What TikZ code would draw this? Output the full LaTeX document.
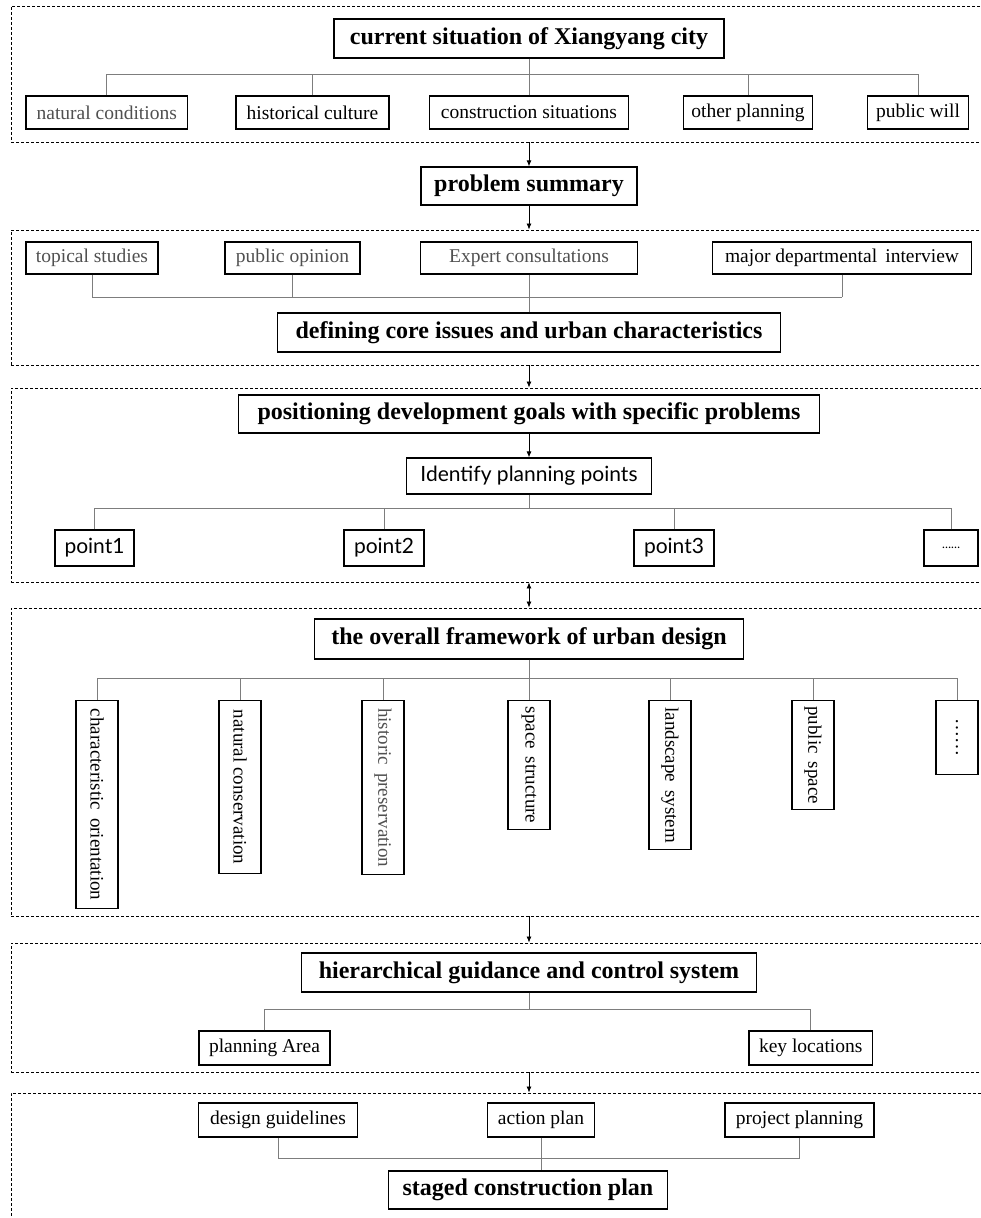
\documentclass[tikz,border=0pt]{standalone}
\usepackage{fontspec}
\setmainfont{Liberation Serif}
\newfontfamily\pointfont{Lato}
\usetikzlibrary{arrows.meta}

\definecolor{treegray}{RGB}{125,125,125}
\definecolor{textgray}{RGB}{80,80,80}

\begin{document}
\begin{tikzpicture}[x=1pt, y=-1pt,
    frame/.style={draw, dash pattern=on 3pt off 2pt, line width=0.9pt, inner sep=0pt},
    head/.style={draw, line width=1.3pt, inner sep=0pt, minimum height=39, font=\bfseries\fontsize{24}{28}\selectfont},
    item/.style={draw, line width=1.2pt, inner sep=0pt, minimum height=33, font=\fontsize{19.5}{23}\selectfont},
    pnt/.style={draw, line width=1.2pt, inner sep=0pt, minimum height=36, font=\pointfont\fontsize{21}{25}\selectfont},
    vert/.style={draw, line width=1.2pt, rotate=-90, anchor=west, inner sep=0pt, minimum height=42, font=\fontsize{19}{22}\selectfont},
    tree/.style={draw=treegray, line width=0.9pt},
    flow/.style={line width=0.8pt, -{Latex[length=6pt,width=5pt]}}]
    \useasboundingbox (0,0) rectangle (981,1218);

    % dashed frames
    \node[frame, minimum width=979, minimum height=136] (f1) at (500.5,74) {};
    \node[frame, minimum width=979, minimum height=135] (f2) at (500.5,297.5) {};
    \node[frame, minimum width=979, minimum height=194] (f3) at (500.5,485) {};
    \node[frame, minimum width=979, minimum height=308] (f4) at (500.5,762) {};
    \node[frame, minimum width=979, minimum height=129] (f5) at (500.5,1007.5) {};
    \node[frame, minimum width=979, minimum height=147] (f6) at (500.5,1166.5) {};

    % current situation
    \node[head, minimum width=390] (cur) at (529,38.5) {current situation of Xiangyang city};
    \node[item, minimum width=161.5, text=textgray] (nat) at (106.75,112.5) {natural conditions};
    \node[item, minimum width=153] (his) at (312.5,112.5) {historical culture};
    \node[item, minimum width=198.5] (con) at (529,112.5) {construction situations};
    \node[item, minimum width=128.5] (oth) at (748,112.5) {other planning};
    \node[item, minimum width=101.5] (pub) at (918,112.5) {public will};
    \coordinate (bus1) at (0,74);
    \draw[tree] (cur.south) -- (cur.south |- bus1);
    \draw[tree] (nat.north |- bus1) -- (pub.north |- bus1);
    \foreach \n in {nat,his,con,oth,pub}
        \draw[tree] (\n.north) -- (\n.north |- bus1);

    \node[head, minimum width=216, minimum height=38] (sum) at (529,186) {problem summary};
    \draw[flow] (sum.north |- f1.south) -- (sum.north);
    \draw[flow] (sum.south) -- (sum.south |- f2.north);

    % core issues
    \node[item, minimum width=132, minimum height=32, text=textgray] (top) at (92,258) {topical studies};
    \node[item, minimum width=135, minimum height=32, text=textgray] (opi) at (292.5,258) {public opinion};
    \node[item, minimum width=217.5, minimum height=32, text=textgray] (exp) at (529,258) {Expert consultations};
    \node[item, minimum width=259.5, minimum height=32] (maj) at (842,258) {major departmental\, interview};
    \node[head, minimum width=503] (core) at (529,332.5) {defining core issues and urban characteristics};
    \coordinate (bus2) at (0,297);
    \draw[tree] (top.south |- bus2) -- (maj.south |- bus2);
    \foreach \n in {top,opi,exp,maj}
        \draw[tree] (\n.south) -- (\n.south |- bus2);
    \draw[tree] (core.north) -- (core.north |- bus2);
    \draw[flow] (core.south |- f2.south) -- (core.south |- f3.north);

    % goals and points
    \node[head, minimum width=581.5, minimum height=38] (pos) at (529,414) {positioning development goals with specific problems};
    \node[pnt, minimum width=245] (ide) at (529,476) {Identify planning points};
    \draw[flow] (pos.south) -- (ide.north);
    \node[pnt, minimum width=79] (p1) at (94.5,548) {point1};
    \node[pnt, minimum width=80] (p2) at (384,548) {point2};
    \node[pnt, minimum width=80] (p3) at (674,548) {point3};
    \node[pnt, minimum width=54, font=\pointfont\fontsize{12}{14}\selectfont] (p4) at (951,548) {……};
    \coordinate (bus3) at (0,508);
    \draw[tree] (ide.south) -- (ide.south |- bus3);
    \draw[tree] (p1.north |- bus3) -- (p4.north |- bus3);
    \foreach \n in {p1,p2,p3,p4}
        \draw[tree] (\n.north) -- (\n.north |- bus3);
    \draw[flow, {Latex[length=6pt,width=5pt]}-{Latex[length=6pt,width=5pt]}] (ide.south |- f3.south) -- (ide.south |- f4.north);

    % overall framework
    \node[head, minimum width=428.5, minimum height=40] (fw) at (529,639) {the overall framework of urban design};
    \node[vert, minimum width=208] (v1) at (97,700) {characteristic\, orientation};
    \node[vert, minimum width=173] (v2) at (240,700) {natural conservation};
    \node[vert, minimum width=174, text=textgray] (v3) at (383,700) {historic\, preservation};
    \node[vert, minimum width=129] (v4) at (529,700) {space\, structure};
    \node[vert, minimum width=149] (v5) at (670,700) {landscape\, system};
    \node[vert, minimum width=109] (v6) at (813,700) {public\, space};
    \node[vert, minimum width=74] (v7) at (957,700) {……};
    \coordinate (bus4) at (0,678);
    \draw[tree] (fw.south) -- (fw.south |- bus4);
    \draw[tree] (v1.west |- bus4) -- (v7.west |- bus4);
    \foreach \n in {v1,v2,v3,v4,v5,v6,v7}
        \draw[tree] (\n.west) -- (\n.west |- bus4);
    \draw[flow] (fw.south |- f4.south) -- (fw.south |- f5.north);

    % guidance and control
    \node[head, minimum width=455] (hie) at (529,972.5) {hierarchical guidance and control system};
    \node[item, minimum width=131, minimum height=34] (are) at (264.5,1048) {planning Area};
    \node[item, minimum width=123.5, minimum height=34] (key) at (810.75,1048) {key locations};
    \coordinate (bus5) at (0,1009);
    \draw[tree] (hie.south) -- (hie.south |- bus5);
    \draw[tree] (are.north |- bus5) -- (key.north |- bus5);
    \foreach \n in {are,key}
        \draw[tree] (\n.north) -- (\n.north |- bus5);
    \draw[flow] (hie.south |- f5.south) -- (hie.south |- f6.north);

    % staged construction
    \node[item, minimum width=158.5, minimum height=34] (gui) at (278,1120) {design guidelines};
    \node[item, minimum width=106.5, minimum height=34] (act) at (541,1120) {action plan};
    \node[item, minimum width=149, minimum height=34] (pro) at (799.5,1120) {project planning};
    \node[head, minimum width=278.5, minimum height=38] (sta) at (528,1190) {staged construction plan};
    \coordinate (bus6) at (0,1158);
    \draw[tree] (gui.south |- bus6) -- (pro.south |- bus6);
    \foreach \n in {gui,act,pro}
        \draw[tree] (\n.south) -- (\n.south |- bus6);
    \draw[tree] (act.south |- bus6) -- (act.south |- sta.north);
\end{tikzpicture}
\end{document}
